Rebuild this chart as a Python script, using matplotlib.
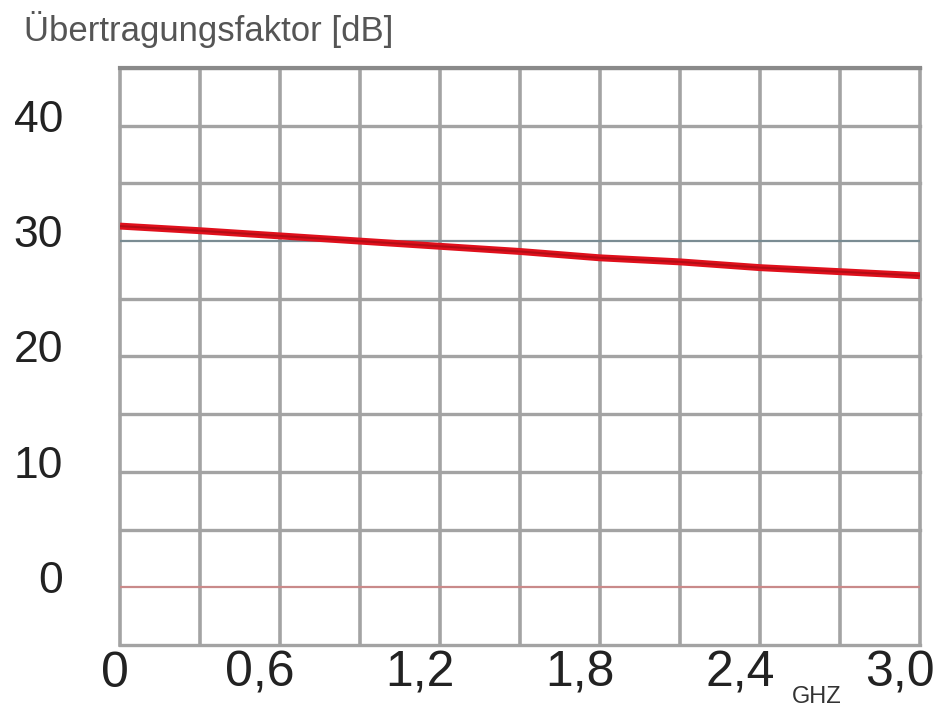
import matplotlib
matplotlib.use("Agg")
import matplotlib.pyplot as plt
import matplotlib.transforms as mtransforms
from matplotlib import font_manager

freq_ghz = [0.0, 0.3, 0.6, 0.9, 1.2, 1.5, 1.8, 2.1, 2.4, 2.7, 3.0]
gain_db = [31.3, 30.9, 30.45, 30.0, 29.55, 29.1, 28.55, 28.2, 27.7, 27.35, 27.0]
x_ticks = [0.0, 0.6, 1.2, 1.8, 2.4, 3.0]
x_labels = ["0", "0,6", "1,2", "1,8", "2,4", "3,0"]
y_ticks = [0, 10, 20, 30, 40]
y_labels = ["0", "10", "20", "30", "40"]

names = {f.name for f in font_manager.fontManager.ttflist}
narrow = "Liberation Sans Narrow" if "Liberation Sans Narrow" in names else "Liberation Sans"

fig = plt.figure(figsize=(9.45, 7.12), dpi=100)
ax = fig.add_axes([120/945, 67/712, 800/945, 577/712])
ax.set_xlim(0, 3.0)
ax.set_ylim(-5, 45)

grid_col = "#a3a3a3"
for i in range(11):
    ax.axvline(i * 0.3, color=grid_col, lw=2.6, zorder=1, clip_on=False)
for i in range(-1, 10):
    v = i * 5
    if v == 0:
        ax.axhline(v, color="#c98a8a", lw=1.6, zorder=1)
    elif v == 30:
        ax.axhline(v, color="#7a8c93", lw=1.6, zorder=1)
    else:
        ax.axhline(v, color=grid_col, lw=2.4, zorder=1, clip_on=False)
ax.axhline(45, color="#8a8a8a", lw=3, zorder=1, clip_on=False)

ax.plot(freq_ghz, gain_db, color="#e0101c", lw=5, solid_capstyle="butt", zorder=3)
ax.plot(freq_ghz, gain_db, color="#8a0a10", lw=1.5, alpha=0.5, zorder=4)

for s in ax.spines.values():
    s.set_visible(False)

ax.set_xticks(x_ticks)
ax.set_xticklabels(x_labels, fontfamily=narrow, fontsize=36, color="#222222")
ax.set_yticks(y_ticks)
ax.set_yticklabels(y_labels, fontfamily="Liberation Sans", fontsize=32, color="#222222")
ax.tick_params(axis="both", length=0)
ax.tick_params(axis="x", pad=4)
ax.tick_params(axis="y", pad=41)
for lab in ax.get_yticklabels():
    lab.set_horizontalalignment("right")
    lab.set_transform(lab.get_transform() + mtransforms.ScaledTranslation(0, 0.1, fig.dpi_scale_trans))
for k, lab in enumerate(ax.get_xticklabels()):
    dx = -0.05 if k == 0 else -0.2
    lab.set_transform(lab.get_transform() + mtransforms.ScaledTranslation(dx, 0, fig.dpi_scale_trans))

fig.text(24/945, 1 - 29/712, "Übertragungsfaktor [dB]", fontfamily="Liberation Sans",
         fontsize=25, color="#555555", va="center", ha="left")
fig.text(817/945, 1 - 697/712, "GHZ", fontfamily=narrow, fontsize=17, color="#333333",
         va="center", ha="center")

fig.savefig("out.png", dpi=100, facecolor="white")
